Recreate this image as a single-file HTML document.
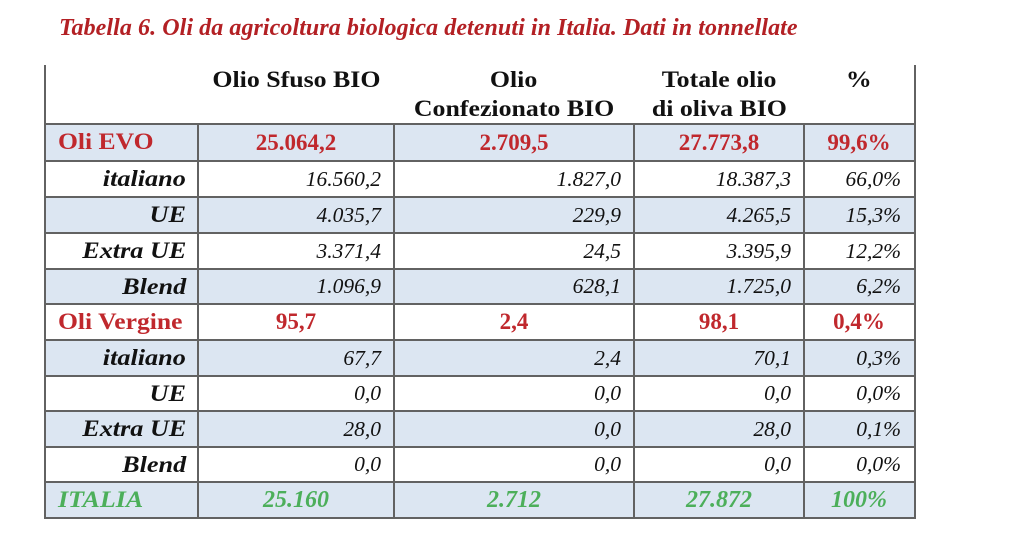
<!DOCTYPE html>
<html><head><meta charset="utf-8">
<style>
html,body{margin:0;padding:0;background:#fff;}
body{width:1024px;height:557px;position:relative;overflow:hidden;font-family:"Liberation Serif",serif;}
.title{position:absolute;left:59px;top:16px;font-size:24px;letter-spacing:0.07px;line-height:1;font-weight:bold;font-style:italic;color:#b32024;white-space:nowrap;}
.row{position:absolute;left:45px;width:870px;}
.blue{background:#dce6f2;}
.c{position:absolute;top:0;height:100%;white-space:nowrap;}
.c span{display:inline-block;}
.lab{font-weight:bold;color:#c0282d;font-size:23.5px;text-align:left;padding-left:13px;box-sizing:border-box;}
.lab span{transform:scaleX(1.09);transform-origin:left center;}
.sub{font-weight:bold;font-style:italic;color:#111;font-size:23px;text-align:right;padding-right:12px;box-sizing:border-box;}
.sub span{transform:scaleX(1.14);transform-origin:right center;}
.num{font-style:italic;color:#111;font-size:21.5px;text-align:right;padding-right:13px;box-sizing:border-box;}
.rnum{font-weight:bold;color:#c0282d;font-size:23px;text-align:center;}
.gnum{font-weight:bold;font-style:italic;color:#4caf5a;font-size:24px;text-align:center;}
.glab{font-weight:bold;font-style:italic;color:#4caf5a;font-size:23px;text-align:left;padding-left:13px;box-sizing:border-box;}
.glab span{transform:scaleX(1.13);transform-origin:left center;}
.k0{left:0;width:153px;}
.k1{left:153px;width:196px;}
.k2{left:349px;width:240px;}
.k3{left:589px;width:170px;}
.k4{left:759px;width:110px;}
.hl{position:absolute;left:44px;width:872px;height:2px;background:#626262;}
.vl{position:absolute;width:2px;background:#626262;}
.hd{position:absolute;top:66px;font-weight:bold;color:#111;font-size:23.5px;line-height:29px;text-align:center;white-space:nowrap;}
.hd span{display:inline-block;transform:scaleX(1.1);transform-origin:center center;}
</style></head>
<body>
<div class="title">Tabella 6. Oli da agricoltura biologica detenuti in Italia. Dati in tonnellate</div>

<!-- header -->
<div class="hd" style="left:198px;width:196px;"><span>Olio Sfuso BIO</span></div>
<div class="hd" style="left:394px;width:240px;"><span>Olio</span><br><span>Confezionato BIO</span></div>
<div class="hd" style="left:634px;width:170px;"><span>Totale olio</span><br><span>di oliva BIO</span></div>
<div class="hd" style="left:804px;width:110px;"><span>%</span></div>

<!-- rows -->
<div class="row blue" style="top:124px;height:37px;line-height:37px;">
 <div class="c k0 lab"><span>Oli EVO</span></div>
 <div class="c k1 rnum">25.064,2</div>
 <div class="c k2 rnum">2.709,5</div>
 <div class="c k3 rnum">27.773,8</div>
 <div class="c k4 rnum">99,6%</div>
</div>
<div class="row" style="top:161px;height:36px;line-height:36px;">
 <div class="c k0 sub"><span>italiano</span></div>
 <div class="c k1 num">16.560,2</div>
 <div class="c k2 num">1.827,0</div>
 <div class="c k3 num">18.387,3</div>
 <div class="c k4 num">66,0%</div>
</div>
<div class="row blue" style="top:197px;height:36px;line-height:36px;">
 <div class="c k0 sub"><span>UE</span></div>
 <div class="c k1 num">4.035,7</div>
 <div class="c k2 num">229,9</div>
 <div class="c k3 num">4.265,5</div>
 <div class="c k4 num">15,3%</div>
</div>
<div class="row" style="top:233px;height:36px;line-height:36px;">
 <div class="c k0 sub"><span>Extra UE</span></div>
 <div class="c k1 num">3.371,4</div>
 <div class="c k2 num">24,5</div>
 <div class="c k3 num">3.395,9</div>
 <div class="c k4 num">12,2%</div>
</div>
<div class="row blue" style="top:269px;height:35px;line-height:35px;">
 <div class="c k0 sub"><span>Blend</span></div>
 <div class="c k1 num">1.096,9</div>
 <div class="c k2 num">628,1</div>
 <div class="c k3 num">1.725,0</div>
 <div class="c k4 num">6,2%</div>
</div>
<div class="row" style="top:304px;height:36px;line-height:36px;">
 <div class="c k0 lab"><span>Oli Vergine</span></div>
 <div class="c k1 rnum">95,7</div>
 <div class="c k2 rnum">2,4</div>
 <div class="c k3 rnum">98,1</div>
 <div class="c k4 rnum">0,4%</div>
</div>
<div class="row blue" style="top:340px;height:36px;line-height:36px;">
 <div class="c k0 sub"><span>italiano</span></div>
 <div class="c k1 num">67,7</div>
 <div class="c k2 num">2,4</div>
 <div class="c k3 num">70,1</div>
 <div class="c k4 num">0,3%</div>
</div>
<div class="row" style="top:376px;height:35px;line-height:35px;">
 <div class="c k0 sub"><span>UE</span></div>
 <div class="c k1 num">0,0</div>
 <div class="c k2 num">0,0</div>
 <div class="c k3 num">0,0</div>
 <div class="c k4 num">0,0%</div>
</div>
<div class="row blue" style="top:411px;height:36px;line-height:36px;">
 <div class="c k0 sub"><span>Extra UE</span></div>
 <div class="c k1 num">28,0</div>
 <div class="c k2 num">0,0</div>
 <div class="c k3 num">28,0</div>
 <div class="c k4 num">0,1%</div>
</div>
<div class="row" style="top:447px;height:35px;line-height:35px;">
 <div class="c k0 sub"><span>Blend</span></div>
 <div class="c k1 num">0,0</div>
 <div class="c k2 num">0,0</div>
 <div class="c k3 num">0,0</div>
 <div class="c k4 num">0,0%</div>
</div>
<div class="row blue" style="top:482px;height:36px;line-height:36px;">
 <div class="c k0 glab"><span>ITALIA</span></div>
 <div class="c k1 gnum">25.160</div>
 <div class="c k2 gnum">2.712</div>
 <div class="c k3 gnum">27.872</div>
 <div class="c k4 gnum">100%</div>
</div>

<!-- grid lines -->
<div class="hl" style="top:123px;"></div>
<div class="hl" style="top:160px;"></div>
<div class="hl" style="top:196px;"></div>
<div class="hl" style="top:232px;"></div>
<div class="hl" style="top:268px;"></div>
<div class="hl" style="top:303px;"></div>
<div class="hl" style="top:339px;"></div>
<div class="hl" style="top:375px;"></div>
<div class="hl" style="top:410px;"></div>
<div class="hl" style="top:446px;"></div>
<div class="hl" style="top:481px;"></div>
<div class="hl" style="top:517px;"></div>

<div class="vl" style="left:44px;top:65px;height:454px;"></div>
<div class="vl" style="left:914px;top:65px;height:454px;"></div>
<div class="vl" style="left:197px;top:123px;height:396px;"></div>
<div class="vl" style="left:393px;top:123px;height:396px;"></div>
<div class="vl" style="left:633px;top:123px;height:396px;"></div>
<div class="vl" style="left:803px;top:123px;height:396px;"></div>
</body></html>
